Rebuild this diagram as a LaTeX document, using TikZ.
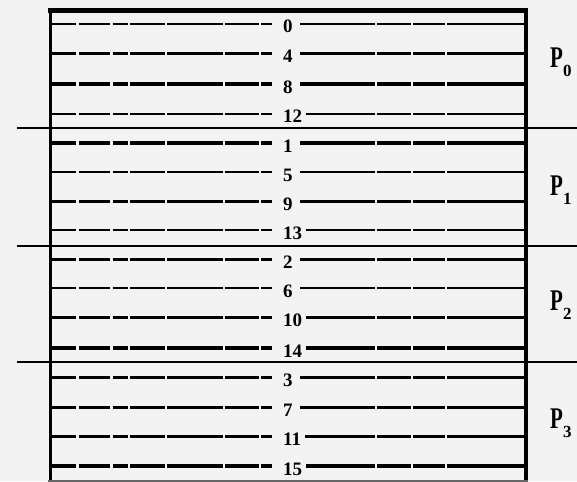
\documentclass[tikz,border=0pt]{standalone}
\usepackage{fontspec}
\usepackage{graphicx}
\setmainfont{Liberation Serif}
\definecolor{bgc}{HTML}{F3F3F3}
\pgfdeclarelayer{bglayer}
\pgfdeclarelayer{linelayer}
\pgfsetlayers{bglayer,linelayer,main}
\newcommand{\plabtext}[1]{\scalebox{0.7}[1]{\fontsize{30}{30}\selectfont\bfseries P}\raisebox{-9pt}{\fontsize{17}{17}\selectfont\bfseries #1}}
\tikzset{
  rowline/.style={draw=black, line cap=butt},
  leftdash/.style={dash pattern=on 25pt off 2.5pt on 31.5pt off 2.5pt on 15pt off 2.5pt on 34.5pt off 2.5pt on 55.5pt off 2.5pt on 33.5pt off 2.5pt on 11pt off 50pt},
  rightdash/.style={dash pattern=on 74.5pt off 2.5pt on 33.5pt off 2.5pt on 31.5pt off 2.5pt on 80pt off 50pt},
  numlab/.style={anchor=base west, inner xsep=4pt, inner ysep=1pt, fill=bgc, font=\fontsize{19}{19}\selectfont\bfseries},
  plab/.style={anchor=base west, inner sep=0pt},
  sepline/.style={draw=black, line width=2.2pt},
  boxedge/.style={draw=black, line cap=butt}
}
\begin{document}
\begin{tikzpicture}[x=1pt,y=-1pt]
\begin{pgfonlayer}{bglayer}
\fill[bgc] (0,0) rectangle (577,481);
\end{pgfonlayer}
\useasboundingbox (0,0) rectangle (577,481);
% rows
\foreach \lab/\yy/\w in {0/24/2.8, 4/53.5/2.8, 8/84.5/4, 12/114/2.8, 1/143/4, 5/172/2.8, 9/201.5/2.8, 13/230/2.8, 2/259.5/2.8, 6/288/2.8, 10/317.5/2.8, 14/348/4, 3/377.5/2.8, 7/407.5/2.8, 11/436.5/2.8, 15/466/3.2}{
  \coordinate (L\lab) at (51,\yy);
  \coordinate (A\lab) at (272,\yy);
  \coordinate (M\lab) at (300,\yy);
  \coordinate (R\lab) at (524,\yy);
  \node[numlab] (n\lab) at (279,\yy+9) {\lab};
  \begin{pgfonlayer}{linelayer}
    \draw[rowline, leftdash, line width=\w pt] (L\lab) -- (A\lab);
    \draw[rowline, rightdash, line width=\w pt] (M\lab) -- (R\lab);
  \end{pgfonlayer}
}
% separators
\foreach \i/\yy in {1/128, 2/246, 3/362}{
  \coordinate (sl\i) at (17,\yy);
  \coordinate (sr\i) at (577,\yy);
  \draw[sepline] (sl\i) -- (sr\i);
}
% box
\coordinate (btl) at (48,10.5);
\coordinate (btr) at (528,10.5);
\draw[boxedge, line width=4.5pt] (btl) -- (btr);
\coordinate (bl1) at (50.5,8);
\coordinate (bl2) at (50.5,481);
\draw[boxedge, line width=3.5pt] (bl1) -- (bl2);
\coordinate (br1) at (525.5,8);
\coordinate (br2) at (525.5,481);
\draw[boxedge, line width=4pt] (br1) -- (br2);
\coordinate (bb1) at (48,481);
\coordinate (bb2) at (528,481);
\draw[boxedge, line width=2.5pt, draw=black!60] (bb1) -- (bb2);
% P labels
\node[plab] (p0) at (550,68) {\plabtext{0}};
\node[plab] (p1) at (550,195) {\plabtext{1}};
\node[plab] (p2) at (550,310) {\plabtext{2}};
\node[plab] (p3) at (550,428) {\plabtext{3}};
\end{tikzpicture}
\end{document}
